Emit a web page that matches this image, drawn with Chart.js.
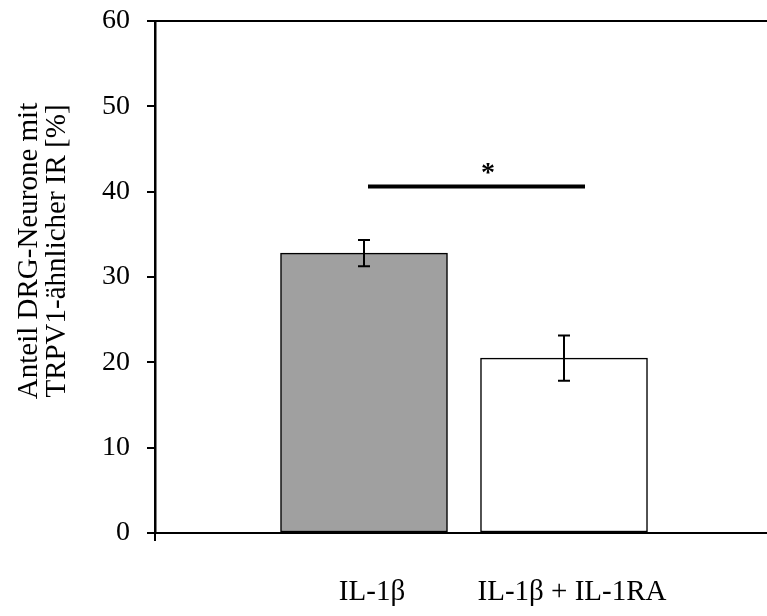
<!DOCTYPE html>
<html>
<head>
<meta charset="utf-8">
<script src="https://cdn.jsdelivr.net/npm/chart.js@4.4.1/dist/chart.umd.min.js"></script>
<style>
  html, body { margin: 0; padding: 0; background: #fff; }
  canvas { display: block; }
</style>
</head>
<body>
<canvas id="c" width="767" height="616"></canvas>
<script>
// Treatment groups and measured values (mean ± SEM, %)
const categories = ['IL-1β', 'IL-1β + IL-1RA'];
const means = [32.8, 20.5];
const errors = [1.55, 2.65];
const barColors = ['#a0a0a0', '#ffffff'];
const yTicks = [0, 10, 20, 30, 40, 50, 60];
const yTitle = ['Anteil DRG-Neurone mit', 'TRPV1-ähnlicher IR [%]'];

// significance bracket between the two groups
const sigLevel = 40.6;
const sigMark = '*';

const X_MIN = -0.045, X_MAX = 3.015;
const SERIF = '"Liberation Serif", "Times New Roman", serif';

const errorBars = {
  id: 'errorBars',
  afterDatasetsDraw(chart) {
    const { ctx, scales: { x, y } } = chart;
    ctx.save();
    ctx.strokeStyle = '#000';
    ctx.lineWidth = 2;
    means.forEach((m, i) => {
      const px = x.getPixelForValue(i + 1);
      const top = y.getPixelForValue(m + errors[i]);
      const bot = y.getPixelForValue(m - errors[i]);
      ctx.beginPath();
      ctx.moveTo(px, top); ctx.lineTo(px, bot);
      ctx.moveTo(px - 6, top); ctx.lineTo(px + 6, top);
      ctx.moveTo(px - 6, bot); ctx.lineTo(px + 6, bot);
      ctx.stroke();
    });
    ctx.restore();
  }
};

const significance = {
  id: 'significance',
  afterDatasetsDraw(chart) {
    const { ctx, scales: { x, y } } = chart;
    const py = y.getPixelForValue(sigLevel);
    const x1 = x.getPixelForValue(1) + 4;
    const x2 = x.getPixelForValue(2) + 21;
    ctx.save();
    ctx.strokeStyle = '#000';
    ctx.lineWidth = 4;
    ctx.beginPath();
    ctx.moveTo(x1, py); ctx.lineTo(x2, py);
    ctx.stroke();
    ctx.fillStyle = '#000';
    ctx.font = 'bold 28px ' + SERIF;
    ctx.textAlign = 'center';
    ctx.textBaseline = 'alphabetic';
    ctx.fillText(sigMark, x.getPixelForValue(1.62), py - 6);
    ctx.restore();
  }
};

const axisTitle = {
  id: 'axisTitle',
  afterDraw(chart) {
    const { ctx } = chart;
    ctx.save();
    ctx.fillStyle = '#000';
    ctx.font = '29px ' + SERIF;
    ctx.textAlign = 'center';
    ctx.textBaseline = 'alphabetic';
    ctx.translate(0, 251);
    ctx.rotate(-Math.PI / 2);
    ctx.fillText(yTitle[0], 0, 37);
    ctx.fillText(yTitle[1], 0, 65);
    ctx.restore();
  }
};

new Chart(document.getElementById('c'), {
  type: 'bar',
  data: {
    datasets: [{
      data: means.map((m, i) => ({ x: i + 1, y: m })),
      backgroundColor: barColors,
      borderColor: '#000',
      borderWidth: 1.5,
      borderSkipped: false,
      barThickness: 167
    }]
  },
  options: {
    responsive: false,
    animation: false,
    devicePixelRatio: 1,
    layout: { padding: 0 },
    plugins: { legend: { display: false }, tooltip: { enabled: false } },
    scales: {
      x: {
        type: 'linear',
        position: 'bottom',
        offset: false,
        min: X_MIN,
        max: X_MAX,
        afterBuildTicks(scale) {
          scale.ticks = [{ value: X_MIN }].concat(categories.map((c, i) => ({ value: i + 1 })));
        },
        afterFit(scale) {
          scale.height = 83;
          scale.paddingLeft = 0;
          scale.paddingRight = 0;
        },
        ticks: {
          autoSkip: false,
          maxRotation: 0,
          padding: 34,
          labelOffset: 8,
          color: '#000',
          font: { family: SERIF, size: 29 },
          callback: (v) => categories[v - 1] || ''
        },
        grid: {
          offset: false,
          drawOnChartArea: false,
          tickLength: 8,
          lineWidth: 2,
          color: (ctx) => (ctx.tick && ctx.tick.value === X_MIN ? '#000' : 'rgba(0,0,0,0)')
        },
        border: { color: '#000', width: 2 }
      },
      x2: {
        type: 'linear',
        position: 'top',
        offset: false,
        min: X_MIN,
        max: X_MAX,
        afterFit(scale) { scale.height = 21; },
        ticks: { display: false },
        grid: { display: false },
        border: { color: '#000', width: 2 }
      },
      y: {
        min: 0,
        max: 60,
        afterBuildTicks(scale) { scale.ticks = yTicks.map(v => ({ value: v })); },
        afterFit(scale) {
          scale.width = 155;
          scale.paddingTop = 0;
          scale.paddingBottom = 0;
        },
        ticks: {
          padding: 17,
          color: '#000',
          font: { family: SERIF, size: 28 }
        },
        grid: {
          drawOnChartArea: false,
          tickLength: 8,
          lineWidth: 2,
          color: '#000'
        },
        border: { color: '#000', width: 2.5 }
      }
    }
  },
  plugins: [errorBars, significance, axisTitle]
});
</script>
</body>
</html>
